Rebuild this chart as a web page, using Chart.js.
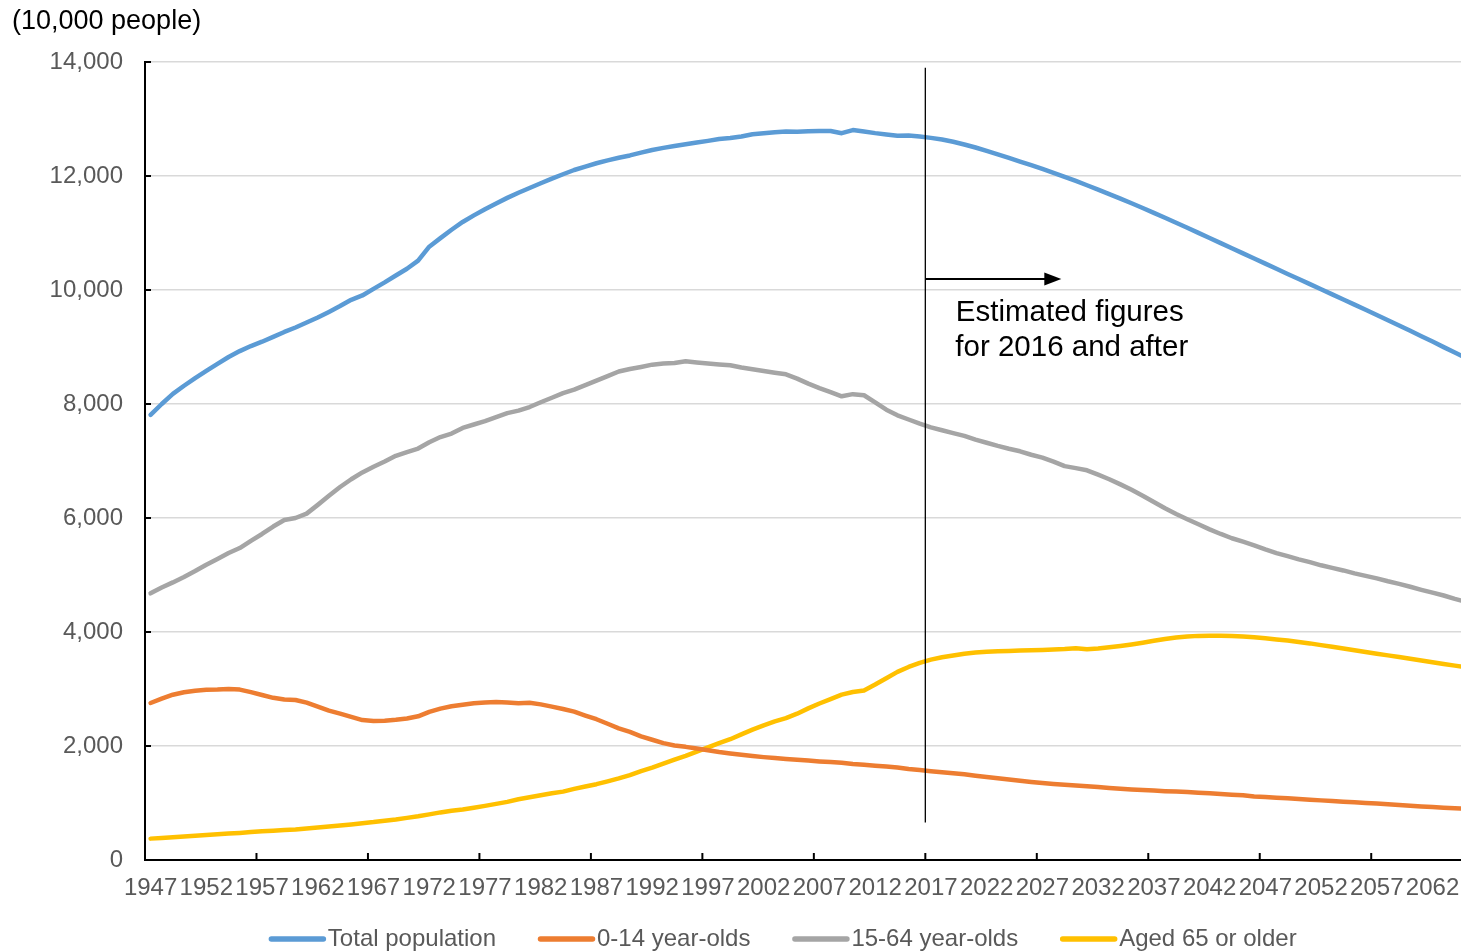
<!DOCTYPE html>
<html lang="en">
<head>
<meta charset="UTF-8">
<title>Population by age group</title>
<script src="https://cdn.jsdelivr.net/npm/chart.js"></script>
<style>
  html, body { margin: 0; padding: 0; background: #fff; overflow: hidden; }
  #wrap { width: 1480px; height: 965px; }
</style>
</head>
<body>
<div id="wrap"><canvas id="popChart" width="1480" height="965"></canvas></div>
<script>
// Years 1947-2065 (10,000 people); 2016 onward are estimates
const years = [
  1947, 1948, 1949, 1950, 1951, 1952, 1953, 1954, 1955, 1956,
  1957, 1958, 1959, 1960, 1961, 1962, 1963, 1964, 1965, 1966,
  1967, 1968, 1969, 1970, 1971, 1972, 1973, 1974, 1975, 1976,
  1977, 1978, 1979, 1980, 1981, 1982, 1983, 1984, 1985, 1986,
  1987, 1988, 1989, 1990, 1991, 1992, 1993, 1994, 1995, 1996,
  1997, 1998, 1999, 2000, 2001, 2002, 2003, 2004, 2005, 2006,
  2007, 2008, 2009, 2010, 2011, 2012, 2013, 2014, 2015, 2016,
  2017, 2018, 2019, 2020, 2021, 2022, 2023, 2024, 2025, 2026,
  2027, 2028, 2029, 2030, 2031, 2032, 2033, 2034, 2035, 2036,
  2037, 2038, 2039, 2040, 2041, 2042, 2043, 2044, 2045, 2046,
  2047, 2048, 2049, 2050, 2051, 2052, 2053, 2054, 2055, 2056,
  2057, 2058, 2059, 2060, 2061, 2062, 2063, 2064, 2065
];

const totalPop = [
  7810, 8000, 8177, 8320, 8454, 8581, 8703, 8824, 8928, 9017,
  9093, 9177, 9264, 9342, 9429, 9518, 9616, 9718, 9828, 9904,
  10020, 10133, 10254, 10372, 10515, 10760, 10910, 11057, 11194, 11309,
  11417, 11519, 11616, 11706, 11790, 11873, 11954, 12031, 12105, 12166,
  12224, 12275, 12321, 12361, 12410, 12457, 12494, 12527, 12557, 12586,
  12616, 12649, 12667, 12693, 12732, 12749, 12769, 12779, 12777, 12785,
  12790, 12790, 12751, 12806, 12780, 12752, 12730, 12708, 12709, 12693,
  12669, 12640, 12600, 12553, 12500, 12440, 12380, 12318, 12254, 12190,
  12124, 12056, 11985, 11913, 11838, 11762, 11683, 11603, 11522, 11438,
  11354, 11267, 11180, 11092, 11003, 10913, 10823, 10732, 10642, 10552,
  10462, 10372, 10282, 10192, 10103, 10014, 9924, 9834, 9744, 9653,
  9562, 9470, 9378, 9284, 9190, 9095, 8998, 8903, 8808
];

const age0to14 = [
  2754, 2830, 2900, 2943, 2970, 2985, 2990, 3000, 2990, 2945,
  2895, 2845, 2815, 2807, 2760, 2690, 2620, 2568, 2510, 2455,
  2440, 2445, 2460, 2482, 2521, 2600, 2655, 2697, 2725, 2750,
  2765, 2770, 2765, 2751, 2760, 2730, 2690, 2650, 2603, 2535,
  2470, 2390, 2310, 2249, 2170, 2110, 2050, 2010, 1985, 1955,
  1925, 1895, 1870, 1847, 1825, 1805, 1788, 1772, 1759, 1745,
  1730, 1718, 1705, 1684, 1670, 1655, 1639, 1623, 1595, 1578,
  1559, 1541, 1521, 1503, 1478, 1456, 1434, 1411, 1390, 1370,
  1350, 1334, 1320, 1308, 1295, 1280, 1263, 1250, 1238, 1228,
  1218, 1208, 1200, 1193, 1181, 1170, 1158, 1146, 1135, 1115,
  1105, 1093, 1082, 1070, 1058, 1046, 1034, 1022, 1012, 1002,
  992, 980, 966, 951, 940, 928, 918, 906, 898
];

const age15to64 = [
  4678, 4780, 4870, 4966, 5070, 5180, 5280, 5385, 5473, 5600,
  5720, 5850, 5965, 6000, 6077, 6230, 6390, 6544, 6680, 6800,
  6900, 6990, 7090, 7157, 7218, 7330, 7420, 7481, 7581, 7640,
  7700, 7770, 7840, 7884, 7947, 8030, 8110, 8190, 8251, 8330,
  8410, 8490, 8570, 8614, 8650, 8690, 8710, 8720, 8749, 8730,
  8712, 8695, 8679, 8640, 8610, 8579, 8550, 8521, 8446, 8358,
  8280, 8210, 8135, 8173, 8153, 8030, 7900, 7802, 7728, 7656,
  7590, 7539, 7490, 7440, 7374, 7320, 7265, 7215, 7170, 7110,
  7060, 6990, 6910, 6875, 6837, 6760, 6680, 6590, 6494, 6390,
  6280, 6170, 6070, 5978, 5890, 5800, 5720, 5645, 5584, 5520,
  5450, 5385, 5330, 5275, 5225, 5170, 5125, 5080, 5028, 4985,
  4940, 4890, 4845, 4793, 4740, 4690, 4640, 4580, 4529
];

const age65plus = [
  375, 385, 398, 411, 425, 437, 450, 463, 475, 490,
  505, 515, 525, 535, 551, 570, 587, 605, 624, 645,
  665, 690, 712, 739, 767, 800, 835, 865, 887, 918,
  950, 985, 1020, 1065, 1100, 1135, 1170, 1200, 1247, 1290,
  1330, 1380, 1431, 1489, 1560, 1620, 1690, 1760, 1826, 1900,
  1976, 2051, 2119, 2204, 2287, 2363, 2431, 2488, 2567, 2660,
  2746, 2822, 2901, 2948, 2975, 3079, 3190, 3300, 3387, 3459,
  3515, 3557, 3589, 3619, 3640, 3653, 3661, 3667, 3677, 3681,
  3685, 3691, 3700, 3716, 3696, 3711, 3733, 3756, 3782, 3812,
  3845, 3878, 3905, 3921, 3932, 3935, 3933, 3928, 3919, 3907,
  3890, 3870, 3850, 3825, 3800, 3770, 3740, 3710, 3680, 3650,
  3620, 3590, 3560, 3530, 3500, 3470, 3440, 3410, 3381
];

const seriesNames = ['Total population', '0-14 year-olds', '15-64 year-olds', 'Aged 65 or older'];
const seriesColors = ['#5B9BD5', '#ED7D31', '#A5A5A5', '#FFC000'];

const unitLabel = '(10,000 people)';
const noteLines = ['Estimated figures', 'for 2016 and after'];
const splitIndex = years.indexOf(2017) - 0.5;   // boundary before 2017
const splitTop = 13900, splitBottom = 660;      // extent of the marker line
const arrowLevel = 10190, arrowEnd = 81.7;      // arrow height (value) and tip (category)

const FONT = '"Liberation Sans", Arial, sans-serif';
const GREY_TEXT = '#595959';

const extrasPlugin = {
  id: 'extras',
  afterDatasetsDraw(chart) {
    const { ctx, scales: { x, y } } = chart;
    const lx = x.getPixelForValue(splitIndex);
    ctx.save();
    ctx.strokeStyle = '#000';
    ctx.fillStyle = '#000';
    ctx.lineWidth = 1.3;
    ctx.beginPath();
    ctx.moveTo(lx, y.getPixelForValue(splitTop));
    ctx.lineTo(lx, y.getPixelForValue(splitBottom));
    ctx.stroke();

    // arrow pointing into the estimated range
    const ay = Math.round(y.getPixelForValue(arrowLevel));
    const ax = x.getPixelForValue(arrowEnd);
    ctx.lineWidth = 2;
    ctx.beginPath();
    ctx.moveTo(lx, ay);
    ctx.lineTo(ax - 12, ay);
    ctx.stroke();
    ctx.beginPath();
    ctx.moveTo(ax, ay);
    ctx.lineTo(ax - 17, ay - 6.5);
    ctx.lineTo(ax - 17, ay + 6.5);
    ctx.closePath();
    ctx.fill();

    ctx.font = '29.5px ' + FONT;
    ctx.textBaseline = 'alphabetic';
    ctx.fillText(noteLines[0], lx + 30.5, ay + 42);
    ctx.fillText(noteLines[1], lx + 30, ay + 77);
    ctx.restore();
  },
  afterDraw(chart) {
    const { ctx, chartArea, scales: { x, y } } = chart;
    ctx.save();

    // tick marks point inwards, like the original
    ctx.strokeStyle = '#000';
    ctx.lineWidth = 2;
    y.ticks.forEach((t, i) => {
      const py = y.getPixelForTick(i);
      ctx.beginPath();
      ctx.moveTo(chartArea.left, py);
      ctx.lineTo(chartArea.left + 6, py);
      ctx.stroke();
    });
    for (let i = 0; i < years.length; i += 10) {
      const px = x.getPixelForValue(i - 0.5);
      ctx.beginPath();
      ctx.moveTo(px, chartArea.bottom);
      ctx.lineTo(px, chartArea.bottom - 7);
      ctx.stroke();
    }

    // unit label top-left
    ctx.fillStyle = '#000';
    ctx.font = '27px ' + FONT;
    ctx.textBaseline = 'middle';
    ctx.fillText(unitLabel, 12, 22);

    // legend along the bottom
    ctx.font = '24px ' + FONT;
    const items = chart.data.datasets.map(ds => ({
      label: ds.label,
      color: ds.borderColor,
      w: 58.5 + ctx.measureText(ds.label).width
    }));
    const gap = 42.5;
    const total = items.reduce((s, it) => s + it.w, 0) + gap * (items.length - 1);
    let lx = 783 - total / 2;
    const ly = 939;
    items.forEach(it => {
      ctx.strokeStyle = it.color;
      ctx.lineWidth = 5.5;
      ctx.lineCap = 'round';
      ctx.beginPath();
      ctx.moveTo(lx + 2, ly);
      ctx.lineTo(lx + 54, ly);
      ctx.stroke();
      ctx.fillStyle = GREY_TEXT;
      ctx.fillText(it.label, lx + 58.5, ly);
      lx += it.w + gap;
    });
    ctx.restore();
  }
};

const datasets = [totalPop, age0to14, age15to64, age65plus].map((vals, i) => ({
  label: seriesNames[i],
  data: vals,
  borderColor: seriesColors[i],
  backgroundColor: seriesColors[i]
}));

new Chart(document.getElementById('popChart'), {
  type: 'line',
  data: { labels: years, datasets: datasets },
  options: {
    responsive: false,
    animation: false,
    devicePixelRatio: 1,
    layout: { padding: { top: 62, right: 6, bottom: 0, left: 0 } },
    elements: {
      point: { radius: 0 },
      line: { borderWidth: 4.5, tension: 0, borderCapStyle: 'round', borderJoinStyle: 'round' }
    },
    plugins: {
      legend: { display: false },
      tooltip: { enabled: false }
    },
    scales: {
      x: {
        offset: true,
        grid: { display: false, drawTicks: false },
        border: { color: '#000', width: 2 },
        ticks: {
          autoSkip: false,
          maxRotation: 0,
          minRotation: 0,
          padding: 14,
          color: GREY_TEXT,
          font: { family: FONT, size: 24 },
          callback: (v, i) => (i % 5 === 0 ? String(years[i]) : '')
        },
        afterFit: s => { s.height = 105; }
      },
      y: {
        min: 0,
        max: 14000,
        ticks: { stepSize: 2000, padding: 22, color: GREY_TEXT, font: { family: FONT, size: 24 } },
        grid: { color: '#d9d9d9', lineWidth: 1.5, drawTicks: false },
        border: { color: '#000', width: 2 },
        afterFit: s => { s.width = 145; }
      }
    }
  },
  plugins: [extrasPlugin]
});
</script>
</body>
</html>
